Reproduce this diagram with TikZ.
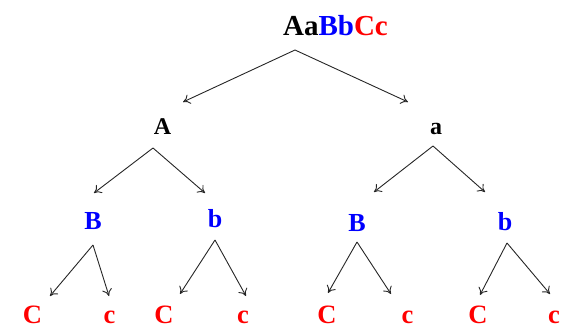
\documentclass[tikz,border=0pt]{standalone}
\usepackage{fontspec}
\setmainfont{Liberation Serif}
\usetikzlibrary{arrows.meta}
\definecolor{gblue}{RGB}{0,0,255}
\definecolor{gred}{RGB}{255,0,0}
\tikzset{
  lbl/.style={inner sep=0pt, anchor=base, font=\bfseries\fontsize{26}{26}\selectfont},
  rootlbl/.style={lbl, font=\bfseries\fontsize{29}{29}\selectfont},
  midlbl/.style={lbl, font=\bfseries\fontsize{24}{24}\selectfont},
  bl/.style={lbl, text=gblue},
  leaf/.style={lbl, text=gred, font=\bfseries\fontsize{26.5}{27}\selectfont},
  arr/.style={draw=black!85, line width=0.9pt, -{To[length=7pt,width=10pt]}}
}
\begin{document}
\begin{tikzpicture}[x=1pt,y=-1pt]
\useasboundingbox (0,0) rectangle (563,329);
% nodes
\node[rootlbl] (root) at (335.5,36) {Aa\textcolor{gblue}{Bb}\textcolor{gred}{Cc}};
\node[midlbl] (A) at (162.5,135) {A};
\node[midlbl] (a) at (436,135) {a};
\node[bl] (B1) at (93,229) {B};
\node[bl] (b1) at (215,227) {b};
\node[bl] (B2) at (357,231) {B};
\node[bl] (b2) at (505,230) {b};
\node[leaf] (C1) at (32.5,323.5) {C};
\node[leaf] (c1) at (109.5,323.5) {c};
\node[leaf] (C2) at (164,323.5) {C};
\node[leaf] (c2) at (243,323.5) {c};
\node[leaf] (C3) at (327,323.5) {C};
\node[leaf] (c3) at (407.5,323.5) {c};
\node[leaf] (C4) at (478,323.5) {C};
\node[leaf] (c4) at (554,323.5) {c};
% connector end points
\coordinate (root-out) at (295,50);
\coordinate (A-in) at (183,102);
\coordinate (a-in) at (408,102);
\coordinate (A-out) at (153,148);
\coordinate (B1-in) at (94,193);
\coordinate (b1-in) at (205,193);
\coordinate (a-out) at (433,146);
\coordinate (B2-in) at (374,192);
\coordinate (b2-in) at (485,192);
\coordinate (B1-out) at (93,245);
\coordinate (C1-in) at (50,296);
\coordinate (c1-in) at (109,296);
\coordinate (b1-out) at (215,240);
\coordinate (C2-in) at (180,294);
\coordinate (c2-in) at (246,296);
\coordinate (B2-out) at (357,242);
\coordinate (C3-in) at (328,293);
\coordinate (c3-in) at (391,294);
\coordinate (b2-out) at (507,243);
\coordinate (C4-in) at (480,295);
\coordinate (c4-in) at (550,294);
% connectors
\draw[arr] (root-out) -- (A-in);
\draw[arr] (root-out) -- (a-in);
\draw[arr] (A-out) -- (B1-in);
\draw[arr] (A-out) -- (b1-in);
\draw[arr] (a-out) -- (B2-in);
\draw[arr] (a-out) -- (b2-in);
\draw[arr] (B1-out) -- (C1-in);
\draw[arr] (B1-out) -- (c1-in);
\draw[arr] (b1-out) -- (C2-in);
\draw[arr] (b1-out) -- (c2-in);
\draw[arr] (B2-out) -- (C3-in);
\draw[arr] (B2-out) -- (c3-in);
\draw[arr] (b2-out) -- (C4-in);
\draw[arr] (b2-out) -- (c4-in);
\end{tikzpicture}
\end{document}
